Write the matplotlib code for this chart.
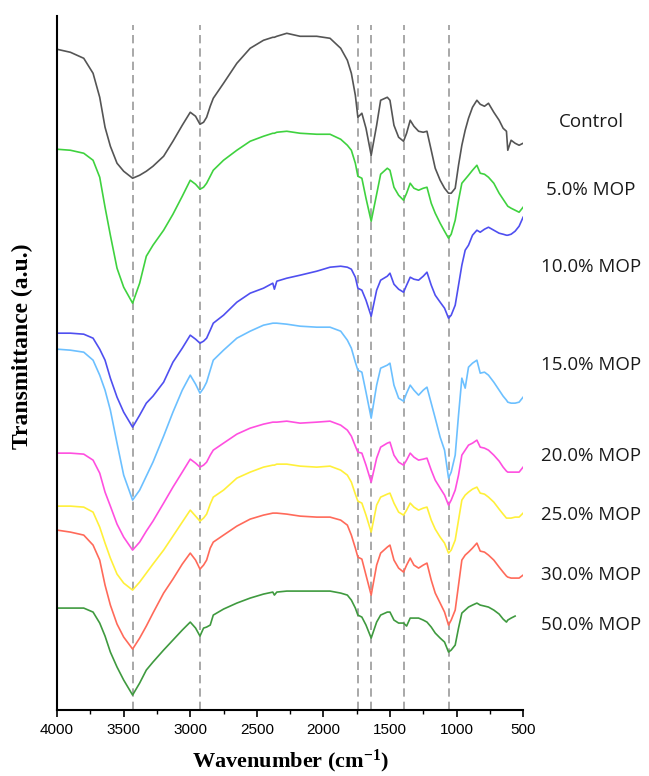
import numpy as np
import matplotlib
matplotlib.use("Agg")
import matplotlib.pyplot as plt
from matplotlib.ticker import MultipleLocator

plt.rcParams["mathtext.fontset"] = "custom"
plt.rcParams["mathtext.rm"] = "Liberation Serif:bold"
plt.rcParams["mathtext.default"] = "rm"

# wavenumber grid (cm-1) shared by all spectra
wavenumber = [4000, 3900, 3800, 3730, 3680, 3640, 3600, 3550, 3500, 3433,
              3380, 3330, 3280, 3200, 3130, 3060, 3000, 2960, 2927, 2900,
              2877, 2850, 2827, 2750, 2650, 2550, 2450, 2380, 2368, 2350,
              2275, 2175, 2050, 1950, 1870, 1820, 1790, 1760, 1741, 1711,
              1680, 1641, 1600, 1570, 1520, 1500, 1470, 1435, 1398, 1375,
              1348, 1320, 1285, 1250, 1222, 1190, 1160, 1123, 1090, 1060,
              1040, 1010, 985, 960, 935, 910, 880, 847, 822, 790,
              760, 720, 680, 650, 625, 615, 590, 560, 530, 500]

# transmittance (a.u., spectra already offset as in the figure)
control = [661, 658, 652, 637, 613, 583, 564, 547, 539, 532,
           535, 539, 544, 554, 569, 585, 598, 594, 586, 588,
           593, 604, 612, 627, 647, 662, 670, 673, 673, 674,
           677, 674, 674, 672, 662, 650, 637, 615, 593, 597,
           582, 555, 585, 610, 613, 610, 585, 573, 569, 577,
           590, 584, 579, 578, 579, 560, 542, 530, 522, 517,
           517, 522, 545, 565, 580, 592, 603, 610, 606, 604,
           607, 598, 590, 582, 579, 560, 570, 567, 565, 567]

mop_5 = [561, 560, 557, 550, 533, 503, 475, 442, 423, 407,
         427, 454, 465, 480, 496, 514, 530, 526, 521, 523,
         527, 534, 540, 550, 560, 569, 574, 577, 577, 578,
         579, 577, 576, 576, 571, 565, 560, 547, 534, 532,
         512, 489, 516, 536, 542, 540, 523, 515, 510, 517,
         527, 522, 520, 522, 523, 507, 497, 487, 479, 472,
         476, 490, 510, 527, 531, 535, 540, 545, 537, 536,
         533, 527, 517, 511, 506, 504, 502, 500, 498, 503]

mop_10 = [377, 377, 376, 372, 361, 350, 332, 313, 298, 283,
          295, 307, 314, 328, 348, 362, 375, 371, 367, 369,
          372, 380, 387, 395, 408, 417, 422, 427, 421, 429,
          432, 435, 439, 443, 444, 443, 441, 433, 422, 420,
          410, 394, 420, 430, 434, 437, 426, 421, 418, 425,
          433, 431, 430, 434, 438, 425, 415, 408, 402, 392,
          395, 405, 425, 445, 460, 465, 475, 480, 478, 481,
          483, 480, 477, 476, 475, 475, 476, 479, 484, 493]

mop_15 = [361, 360, 358, 350, 335, 320, 300, 267, 235, 210,
          220, 234, 248, 274, 298, 320, 335, 326, 317, 322,
          328, 340, 350, 360, 372, 379, 385, 387, 387, 387,
          386, 384, 383, 383, 379, 370, 362, 348, 340, 338,
          318, 292, 325, 342, 345, 347, 325, 312, 309, 317,
          325, 320, 315, 320, 323, 307, 292, 273, 260, 232,
          238, 255, 295, 332, 322, 343, 347, 350, 337, 338,
          335, 328, 320, 314, 310, 308, 307, 307, 308, 313]

mop_20 = [257, 257, 256, 250, 237, 218, 204, 186, 173, 160,
          168, 179, 189, 207, 223, 238, 251, 247, 243, 245,
          248, 255, 260, 267, 276, 282, 286, 288, 288, 288,
          289, 287, 288, 289, 285, 280, 274, 264, 258, 257,
          245, 228, 252, 263, 267, 268, 255, 248, 245, 250,
          257, 253, 250, 251, 252, 240, 230, 222, 215, 205,
          210, 220, 235, 255, 260, 265, 267, 270, 263, 262,
          260, 255, 249, 243, 239, 238, 238, 238, 238, 243]

mop_25 = [204, 204, 203, 198, 183, 167, 152, 136, 127, 120,
          128, 137, 146, 160, 174, 188, 200, 194, 189, 192,
          196, 206, 213, 220, 232, 238, 243, 245, 245, 246,
          246, 244, 243, 244, 240, 235, 228, 216, 209, 207,
          195, 178, 205, 213, 216, 217, 207, 198, 195, 200,
          207, 203, 200, 202, 203, 190, 181, 173, 167, 157,
          160, 170, 190, 210, 215, 218, 221, 223, 217, 216,
          213, 208, 201, 196, 192, 192, 192, 193, 193, 197]

mop_30 = [180, 178, 175, 165, 150, 125, 105, 86, 73, 61,
          72, 84, 97, 117, 131, 146, 157, 150, 141, 145,
          150, 162, 168, 175, 184, 191, 195, 197, 197, 197,
          196, 194, 193, 193, 190, 185, 175, 162, 153, 151,
          135, 115, 145, 157, 163, 165, 150, 142, 138, 145,
          152, 145, 142, 145, 147, 130, 117, 107, 98, 85,
          90, 100, 125, 150, 155, 158, 162, 167, 159, 158,
          155, 150, 143, 138, 134, 133, 132, 132, 132, 135]

mop_50 = [102, 102, 102, 98, 87, 74, 58, 43, 30, 15,
          27, 40, 48, 60, 70, 80, 88, 82, 74, 82,
          83, 85, 95, 101, 107, 112, 116, 118, 115, 118,
          119, 119, 119, 119, 117, 115, 110, 102, 95, 93,
          85, 72, 88, 95, 98, 98, 90, 87, 87, 84,
          92, 92, 92, 90, 88, 83, 77, 72, 68, 58,
          60, 65, 82, 97, 100, 103, 105, 107, 105, 104,
          103, 100, 96, 91, 88, 90, 92, 94, np.nan, np.nan]

series = [control, mop_5, mop_10, mop_15, mop_20, mop_25, mop_30, mop_50]
labels = ["Control", "5.0% MOP", "10.0% MOP", "15.0% MOP",
          "20.0% MOP", "25.0% MOP", "30.0% MOP", "50.0% MOP"]
colors = ["#555555", "#3fd23f", "#4f4ff0", "#6cc0ff",
          "#ff4fe0", "#fff03a", "#ff6a5a", "#3f9a3f"]
label_y = [588, 520, 443, 345, 254, 195, 135, 85]

peaks = [3433, 2927, 1741, 1641, 1398, 1055]

fig = plt.figure(figsize=(6.49, 7.76), dpi=100)
ax = fig.add_axes([0.088, 0.085, 0.718, 0.894])

for wn_peak in peaks:
    ax.vlines(wn_peak, 0, 685, colors="#9a9a9a", linestyles=(0, (5, 3)),
              linewidth=1.2, zorder=1)

for y, lab, c, ly in zip(series, labels, colors, label_y):
    ax.plot(wavenumber, y, color=c, linewidth=1.2, zorder=2)
    ax.text(-10, ly, lab, ha="center", va="center", fontsize=13.5,
            family="Open Sans", color="#1a1a1a", clip_on=False)

ax.set_xlim(4000, 500)
ax.set_ylim(0, 694)
ax.xaxis.set_major_locator(MultipleLocator(500))
ax.xaxis.set_minor_locator(MultipleLocator(250))
ax.tick_params(axis="x", which="major", direction="out", length=5, width=1.2,
               labelsize=11, pad=4)
ax.tick_params(axis="x", which="minor", direction="out", length=3, width=1.0)
for t in ax.get_xticklabels():
    t.set_family("Liberation Sans")
ax.set_yticks([])
ax.spines["top"].set_visible(False)
ax.spines["right"].set_visible(False)
ax.spines["left"].set_linewidth(1.5)
ax.spines["bottom"].set_linewidth(1.5)

ax.set_xlabel("Wavenumber (cm$^{-1}$)", fontsize=16, fontweight="bold",
              family="Liberation Serif", labelpad=8)
ax.set_ylabel("Transmittance (a.u.)", fontsize=17, fontweight="bold",
              family="Liberation Serif")
ax.yaxis.set_label_coords(-0.052, 0.525)

fig.savefig("out.png", dpi=100)
